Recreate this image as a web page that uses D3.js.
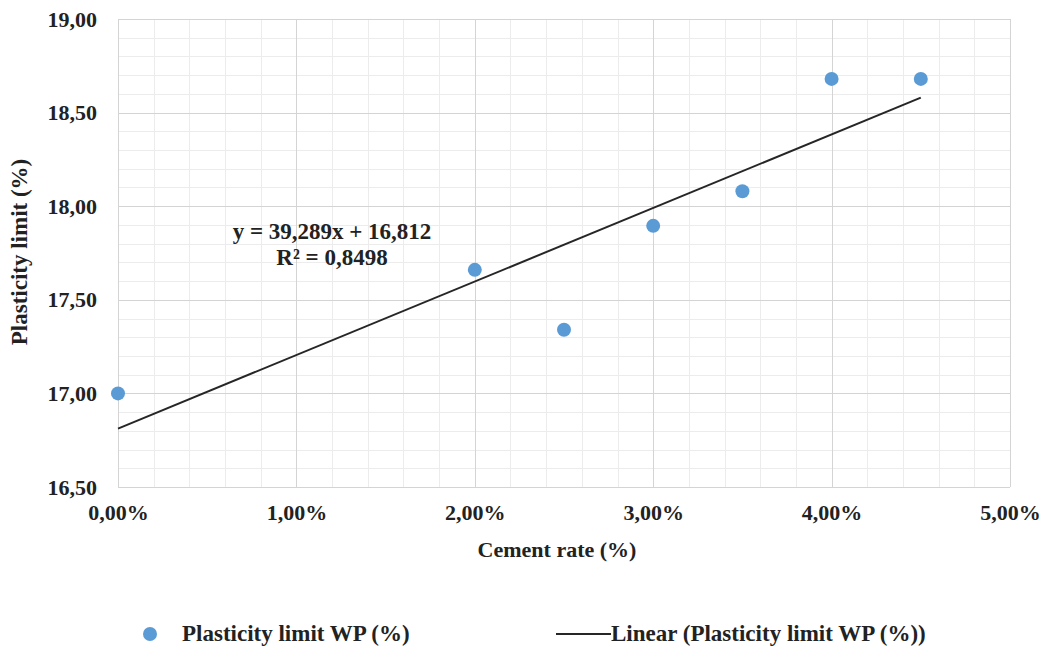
<!DOCTYPE html>
<meta charset="utf-8">
<style>
body { margin: 0; background: #fff; }
svg text { font-family: "Liberation Serif", Tinos, "Times New Roman", Times, "DejaVu Serif", serif; font-weight: bold; fill: #222; }
.grid-minor line { stroke: #ececec; stroke-width: 1; }
.grid-major line { stroke: #d4d4d4; stroke-width: 1; }
.axis path, .axis line { display: none; }
.axis text { font-size: 22px; }
</style>
<svg width="1047" height="651"></svg>
<script src="https://d3js.org/d3.v7.min.js"></script>
<script>
var cementRate = [0, 0.02, 0.025, 0.03, 0.035, 0.04, 0.045];
var plasticLimit = [17.00, 17.66, 17.34, 17.895, 18.08, 18.68, 18.68];
var xTicks = [0, 0.01, 0.02, 0.03, 0.04, 0.05];
var yTicks = [16.5, 17, 17.5, 18, 18.5, 19];
var slope = 39.289, intercept = 16.812;

var locale = d3.formatLocale({decimal: ",", thousands: ".", grouping: [3], currency: ["", ""]});
var fmtY = locale.format(".2f"), fmtX = locale.format(".2%");

var svg = d3.select("svg"),
  margin = {top: 19, right: 37, bottom: 164, left: 118},
  width = svg.attr("width") - margin.left - margin.right,
  height = svg.attr("height") - margin.top - margin.bottom;

var x = d3.scaleLinear().domain([0, 0.05]).range([0, width]);
var y = d3.scaleLinear().domain([16.5, 19]).range([height, 0]);

var g = svg.append("g")
  .attr("transform", "translate(" + margin.left + "," + margin.top + ")");

// minor grid
var minor = g.append("g").attr("class", "grid-minor");
minor.selectAll(".vx").data(d3.range(0, 0.0501, 0.002)).enter().append("line")
  .attr("x1", function(d) { return Math.round(x(d)) + 0.5; })
  .attr("x2", function(d) { return Math.round(x(d)) + 0.5; })
  .attr("y1", 0).attr("y2", height);
minor.selectAll(".hy").data(d3.range(16.5, 19.001, 0.1)).enter().append("line")
  .attr("y1", function(d) { return Math.round(y(d)) + 0.5; })
  .attr("y2", function(d) { return Math.round(y(d)) + 0.5; })
  .attr("x1", 0).attr("x2", width);

// major grid
var major = g.append("g").attr("class", "grid-major");
major.selectAll(".vx").data(xTicks).enter().append("line")
  .attr("x1", function(d) { return Math.round(x(d)) + 0.5; })
  .attr("x2", function(d) { return Math.round(x(d)) + 0.5; })
  .attr("y1", 0).attr("y2", height);
major.selectAll(".hy").data(yTicks).enter().append("line")
  .attr("y1", function(d) { return Math.round(y(d)) + 0.5; })
  .attr("y2", function(d) { return Math.round(y(d)) + 0.5; })
  .attr("x1", 0).attr("x2", width);

// axes (labels only)
g.append("g")
  .attr("class", "axis")
  .attr("transform", "translate(0," + height + ")")
  .call(d3.axisBottom(x).tickValues(xTicks).tickFormat(fmtX).tickSize(0).tickPadding(17));

g.append("g")
  .attr("class", "axis")
  .call(d3.axisLeft(y).tickValues(yTicks).tickFormat(fmtY).tickSize(0).tickPadding(21));

// trend line
var xs = [0, 0.045];
g.append("line")
  .attr("x1", x(xs[0])).attr("y1", y(intercept + slope * xs[0]))
  .attr("x2", x(xs[1])).attr("y2", y(intercept + slope * xs[1]))
  .attr("stroke", "#262626").attr("stroke-width", 2);

// points
g.selectAll("circle").data(cementRate).enter().append("circle")
  .attr("cx", function(d) { return x(d); })
  .attr("cy", function(d, i) { return y(plasticLimit[i]); })
  .attr("r", 7)
  .attr("fill", "#5b9bd5");

// equation
svg.append("text").attr("x", 332).attr("y", 239).attr("text-anchor", "middle")
  .style("font-size", "23px").text("y = 39,289x + 16,812");
svg.append("text").attr("x", 332).attr("y", 265).attr("text-anchor", "middle")
  .style("font-size", "23px").text("R² = 0,8498");

// axis titles
svg.append("text").attr("x", 557).attr("y", 557)
  .attr("text-anchor", "middle").style("font-size", "22px").text("Cement rate (%)");
svg.append("text")
  .attr("transform", "translate(27,252) rotate(-90)")
  .attr("text-anchor", "middle").style("font-size", "23px").text("Plasticity limit  (%)");

// legend
var leg = svg.append("g").attr("transform", "translate(0,634)");
leg.append("circle").attr("cx", 150).attr("cy", 0).attr("r", 7).attr("fill", "#5b9bd5");
leg.append("text").attr("x", 182).attr("y", 7).style("font-size", "23px").text("Plasticity limit WP (%)");
leg.append("line").attr("x1", 556).attr("x2", 611).attr("y1", 0).attr("y2", 0)
  .attr("stroke", "#262626").attr("stroke-width", 2);
leg.append("text").attr("x", 611).attr("y", 7).style("font-size", "23px").text("Linear (Plasticity limit WP (%))");
</script>
